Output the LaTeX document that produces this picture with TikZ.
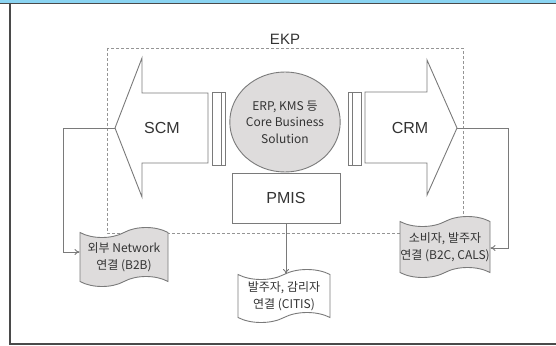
\documentclass[tikz,border=0pt]{standalone}
\usepackage{fontspec}
\setmainfont{Liberation Sans}
\newfontfamily\kr{Noto Sans CJK KR}
\usetikzlibrary{shapes.geometric,shapes.symbols,arrows.meta}
\definecolor{ln}{HTML}{7A7A7A}
\definecolor{txt}{HTML}{333333}
\definecolor{barblue}{HTML}{8AD4F2}
\definecolor{frm}{HTML}{4A4A4A}
\definecolor{gfill}{HTML}{DEDCDC}
\tikzset{
  shapeline/.style={draw=ln, line width=0.9pt, fill=white},
  dashbox/.style={draw=ln!80, line width=0.8pt, dash pattern=on 3pt off 2pt},
  conn/.style={draw=ln, line width=0.9pt, -{To[length=5pt,width=6pt]}},
  bigtxt/.style={text=txt, font=\fontsize{16}{18}\selectfont},
  doc/.style={tape, draw=ln, line width=0.9pt, tape bend height=10pt, align=center, text=txt,
              font=\kr\fontsize{12}{17}\selectfont, inner sep=0pt},
}
\begin{document}
\begin{tikzpicture}[x=1pt,y=-1pt]
\useasboundingbox (0,0) rectangle (556,345);
\fill[white] (0,0) rectangle (556,345);
\fill[barblue] (0,0) rectangle (556,3);
\draw[frm, line width=1.2pt] (0,3.6) -- (556,3.6);
\draw[frm, line width=1.6pt] (9.8,3) -- (9.8,345);
\draw[frm, line width=1.6pt] (9,344) -- (556,344);

% dashed EKP boundary
\draw[dashbox] (107,48) rectangle (463,233);
\node[bigtxt, font=\fontsize{15}{17}\selectfont] (ekp) at (285,39) {EKP};

% SCM arrow
\draw[shapeline] (115,128) coordinate (scmtip) -- (142,58) -- (142,93) -- (208,93) -- (208,163) -- (142,163) -- (142,197) -- cycle;
\node[bigtxt] (scm) at (162,128) {SCM};
\draw[shapeline] (212,92) rectangle (225,165);
\draw[ln, line width=0.9pt] (221,92) -- (221,165);

% CRM arrow
\draw[shapeline] (457,128) coordinate (crmtip) -- (427,60) -- (427,92) -- (365,92) -- (365,163) -- (427,163) -- (427,195) -- cycle;
\node[bigtxt] (crm) at (410,128) {CRM};
\draw[shapeline] (348,92) rectangle (361,165);
\draw[ln, line width=0.9pt] (352,92) -- (352,165);

% core ellipse
\node[ellipse, draw=ln, line width=0.9pt, fill=gfill, minimum width=106pt, minimum height=100pt,
      align=center, text=txt, inner sep=0pt, font=\kr\fontsize{12}{16.5}\selectfont] (core) at (285,122)
  {ERP, KMS 등\\Core Business\\Solution};

% PMIS
\node[draw=ln, line width=0.9pt, fill=white, minimum width=108pt, minimum height=50pt, bigtxt] (pmis) at (286,198) {PMIS};

% documents
\node[doc, fill=gfill, minimum width=88pt, minimum height=59pt] (ld) at (124,257) {외부 Network\\연결 (B2B)};
\node[doc, fill=white, minimum width=92pt, minimum height=53pt] (md) at (284,296) {발주자, 감리자\\연결 (CITIS)};
\node[doc, fill=gfill, minimum width=90pt, minimum height=61pt] (rd) at (445,247) {소비자, 발주자\\연결 (B2C, CALS)};

% connectors
\coordinate (lbend) at (63,128);
\coordinate (rbend) at (508,128);
\draw[conn] (scmtip) -- (lbend) |- ([yshift=5pt]ld.west);
\draw[conn] (crmtip) -- (rbend) |- ([yshift=-1pt]rd.east);
\draw[conn] (pmis.south) -- (pmis.south |- md.north);
\end{tikzpicture}
\end{document}
